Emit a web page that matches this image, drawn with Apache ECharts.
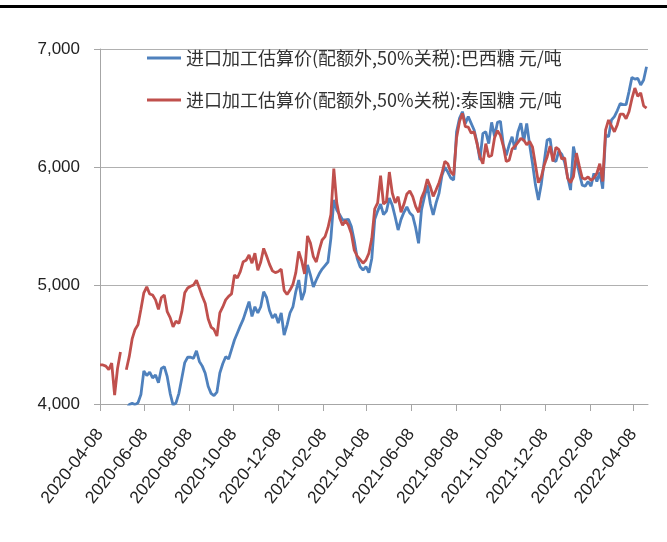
<!DOCTYPE html>
<html><head><meta charset="utf-8">
<script src="https://cdn.jsdelivr.net/npm/echarts@6/dist/echarts.min.js"></script>
<style>html,body{margin:0;padding:0;background:#fff}#c{width:667px;height:542px}</style>
</head><body><div id="c"></div>
<script>
const seriesNames = ['进口加工估算价(配额外,50%关税):巴西糖 元/吨', '进口加工估算价(配额外,50%关税):泰国糖 元/吨'];
const dates = [
'2020-04-08','2020-04-12','2020-04-16','2020-04-20','2020-04-24','2020-04-28',
'2020-05-02','2020-05-06','2020-05-10','2020-05-14','2020-05-18','2020-05-22','2020-05-26','2020-05-30',
'2020-06-03','2020-06-07','2020-06-11','2020-06-15','2020-06-19','2020-06-23','2020-06-27',
'2020-07-01','2020-07-05','2020-07-09','2020-07-13','2020-07-17','2020-07-21','2020-07-25','2020-07-29',
'2020-08-02','2020-08-06','2020-08-10','2020-08-14','2020-08-18','2020-08-22','2020-08-26','2020-08-30',
'2020-09-03','2020-09-07','2020-09-11','2020-09-15','2020-09-19','2020-09-23','2020-09-27',
'2020-10-01','2020-10-05','2020-10-09','2020-10-13','2020-10-17','2020-10-21','2020-10-25','2020-10-29',
'2020-11-02','2020-11-06','2020-11-10','2020-11-14','2020-11-18','2020-11-22','2020-11-26','2020-11-30',
'2020-12-04','2020-12-08','2020-12-12','2020-12-16','2020-12-20','2020-12-24','2020-12-28',
'2021-01-01','2021-01-05','2021-01-09','2021-01-13','2021-01-17','2021-01-21','2021-01-25','2021-01-29',
'2021-02-02','2021-02-06','2021-02-10','2021-02-14','2021-02-18','2021-02-22','2021-02-26',
'2021-03-02','2021-03-06','2021-03-10','2021-03-14','2021-03-18','2021-03-22','2021-03-26','2021-03-30',
'2021-04-03','2021-04-07','2021-04-11','2021-04-15','2021-04-19','2021-04-23','2021-04-27',
'2021-05-01','2021-05-05','2021-05-09','2021-05-13','2021-05-17','2021-05-21','2021-05-25','2021-05-29',
'2021-06-02','2021-06-06','2021-06-10','2021-06-14','2021-06-18','2021-06-22','2021-06-26','2021-06-30',
'2021-07-04','2021-07-08','2021-07-12','2021-07-16','2021-07-20','2021-07-24','2021-07-28',
'2021-08-01','2021-08-05','2021-08-09','2021-08-13','2021-08-17','2021-08-21','2021-08-25','2021-08-29',
'2021-09-02','2021-09-06','2021-09-10','2021-09-14','2021-09-18','2021-09-22','2021-09-26','2021-09-30',
'2021-10-04','2021-10-08','2021-10-12','2021-10-16','2021-10-20','2021-10-24','2021-10-28',
'2021-11-01','2021-11-05','2021-11-09','2021-11-13','2021-11-17','2021-11-21','2021-11-25','2021-11-29',
'2021-12-03','2021-12-07','2021-12-11','2021-12-15','2021-12-19','2021-12-23','2021-12-27','2021-12-31',
'2022-01-04','2022-01-08','2022-01-12','2022-01-16','2022-01-20','2022-01-24','2022-01-28',
'2022-02-01','2022-02-05','2022-02-09','2022-02-13','2022-02-17','2022-02-21','2022-02-25',
'2022-03-01','2022-03-05','2022-03-09','2022-03-13','2022-03-17','2022-03-21','2022-03-25','2022-03-29',
'2022-04-02','2022-04-06','2022-04-10','2022-04-14','2022-04-18','2022-04-22','2022-04-26'
];
const brazil = [
3930,3920,3900,3880,3900,3860,3880,3920,3930,3950,
3995,4005,3995,4010,4080,4280,4240,4270,4220,4245,
4180,4300,4315,4231,4090,3990,4010,4090,4220,4350,
4395,4395,4386,4450,4360,4320,4260,4150,4090,4070,
4100,4262,4340,4400,4380,4460,4541,4600,4660,4715,
4790,4865,4740,4822,4769,4822,4949,4900,4790,4727,
4760,4684,4769,4583,4667,4769,4820,4950,5048,4879,
4950,5175,5090,4990,5048,5100,5140,5170,5200,5400,
5724,5640,5600,5555,5555,5560,5500,5380,5230,5160,
5132,5161,5110,5230,5560,5630,5690,5600,5630,5740,
5680,5580,5470,5560,5620,5665,5614,5590,5490,5358,
5640,5750,5851,5696,5597,5700,5780,5930,6000,5960,
5910,5893,6300,6415,6470,6372,6428,6372,6316,6210,
6062,6287,6300,6200,6380,6260,6380,6390,6190,6100,
6190,6259,6150,6300,6372,6220,6370,6190,6030,5850,
5724,5860,6050,6231,6240,6060,6050,6140,6110,6040,
5921,5808,6175,6060,5950,5850,5840,5880,5840,5949,
5880,5960,5820,6273,6259,6400,6428,6480,6540,6530,
6530,6640,6760,6745,6752,6696,6738,6850
];
const thai = [
4330,4330,4320,4290,4346,4076,4300,4440,null,4290,
4400,4550,4630,4670,4800,4940,4990,4930,4921,4880,
4800,4900,4921,4780,4730,4653,4700,4680,4780,4940,
4980,4995,5006,5045,4980,4910,4850,4720,4650,4630,
4575,4770,4820,4880,4910,4930,5090,5065,5118,5203,
5215,5259,5190,5274,5130,5200,5315,5250,5180,5125,
5110,5120,5140,4960,4925,4963,5010,5110,5290,5210,
5100,5420,5360,5245,5200,5300,5386,5414,5490,5600,
5990,5700,5572,5510,5550,5510,5440,5300,5250,5220,
5190,5217,5274,5400,5650,5700,5930,5690,5710,5960,
5783,5700,5752,5620,5690,5775,5800,5752,5670,5620,
5740,5800,5900,5837,5755,5810,5870,5950,6050,6030,
5960,5935,6250,6386,6456,6344,6340,6290,6300,6200,
6090,6030,6200,6090,6100,6250,6310,6270,6180,6050,
6060,6155,6180,6210,6245,6230,6190,6220,6170,6020,
5870,5920,6020,6090,6180,6050,6170,6150,6070,6080,
5907,5870,5921,6120,6010,5910,5900,5920,5890,5910,
5950,6030,5880,6316,6400,6350,6300,6360,6450,6450,
6410,6470,6580,6670,6600,6630,6520,6500
];
const tickLabels = ['2020-04-08','2020-06-08','2020-08-08','2020-10-08','2020-12-08','2021-02-08','2021-04-08','2021-06-08','2021-08-08','2021-10-08','2021-12-08','2022-02-08','2022-04-08'];
const xStart = '2020-04-08', xEnd = '2022-04-28';

// day offset from the first date (calendar days), so spacing is proportional to time
function dayOff(s){ const p = s.split('-').map(Number); const q = xStart.split('-').map(Number);
  return Math.round((Date.UTC(p[0], p[1]-1, p[2]) - Date.UTC(q[0], q[1]-1, q[2])) / 86400000); }
const tickOff = tickLabels.map(dayOff);

const chart = echarts.init(document.getElementById('c'), null, {renderer: 'canvas'});
chart.setOption({
  animation: false,
  backgroundColor: '#fff',
  graphic: [{type: 'rect', shape: {x: 0, y: 5, width: 667, height: 3}, style: {fill: '#000'}}],
  grid: {left: 100, right: 19, top: 49, bottom: 138, containLabel: false},
  legend: {
    orient: 'vertical', left: 142, top: 43, icon: 'rect', itemWidth: 34, itemHeight: 3, itemGap: 22,
    textStyle: {fontSize: 18, lineHeight: 20, color: '#333', fontFamily: 'Noto Sans CJK SC'},
    data: seriesNames
  },
  xAxis: {
    type: 'value', min: 0, max: dayOff(xEnd),
    axisLine: {show: true, lineStyle: {color: '#A6A6A6', width: 1}},
    axisTick: {show: true, length: 7, lineStyle: {color: '#A6A6A6'}, customValues: tickOff},
    axisLabel: {customValues: tickOff, rotate: 52, margin: 27, fontSize: 17.5, color: '#222', fontFamily: 'Liberation Sans',
      formatter: v => { const i = tickOff.indexOf(Math.round(v)); return i >= 0 ? tickLabels[i] : ''; }},
    splitLine: {show: false}
  },
  yAxis: {
    type: 'value', min: 4000, max: 7000, interval: 1000,
    axisLine: {show: true, lineStyle: {color: '#A6A6A6', width: 1}},
    axisTick: {show: true, length: 6, lineStyle: {color: '#A6A6A6'}},
    axisLabel: {margin: 20, fontSize: 17, color: '#222', fontFamily: 'Liberation Sans', formatter: v => v.toLocaleString('en-US')},
    splitLine: {show: true, lineStyle: {color: '#B0B0B0', width: 1}}
  },
  series: [
    {name: seriesNames[0], type: 'line', showSymbol: false, connectNulls: false, color: '#4F81BD',
     lineStyle: {width: 2.8, color: '#4F81BD'}, data: dates.map((d, i) => [dayOff(d), brazil[i]])},
    {name: seriesNames[1], type: 'line', showSymbol: false, connectNulls: false, color: '#C0504D',
     lineStyle: {width: 2.8, color: '#C0504D'}, data: dates.map((d, i) => [dayOff(d), thai[i]])}
  ]
});
</script></body></html>
